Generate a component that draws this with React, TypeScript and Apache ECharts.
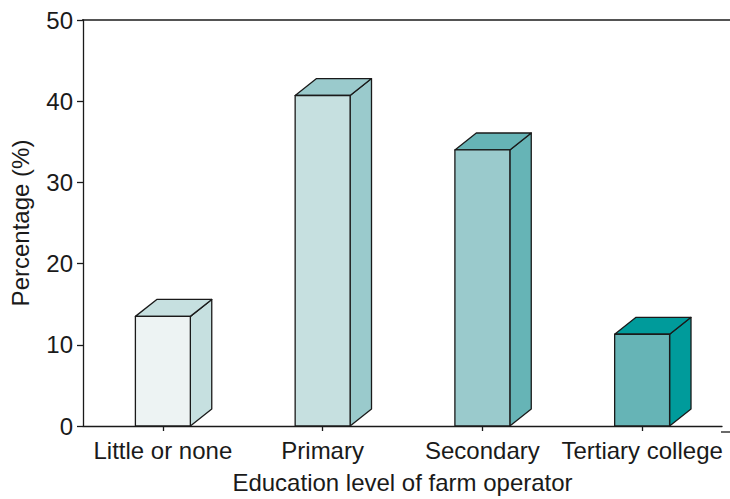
import React, { useEffect, useRef } from "react";
import * as echarts from "echarts";

// Share of farm operators by education level
const categories = ["Little or none", "Primary", "Secondary", "Tertiary college"];
const percentages = [13.5, 40.7, 34.0, 11.3];
const yTicks = [0, 10, 20, 30, 40, 50];

// Front face colour and side/top face colour for each bar
const frontColors = ["#edf3f3", "#c6e0e0", "#9acacc", "#66b4b6"];
const sideColors = ["#c6e0e0", "#9acacc", "#66b4b6", "#009b9b"];

const FONT = "'Liberation Sans', Arial, Helvetica, sans-serif";
const INK = "#1a1a1a";
const FS = 24;

export default function App() {
  const ref = useRef<HTMLDivElement>(null);

  useEffect(() => {
    document.body.style.margin = "0";
    if (!ref.current) return;
    const chart = echarts.init(ref.current, undefined, { renderer: "svg" });

    const gridLeft = 82;
    const gridRight = 8;
    const gridTop = 20;
    const gridBottom = 67;
    const W = 730;
    const H = 499;

    const renderItem = (params: any, api: any) => {
      const i = params.dataIndex;
      const idx = api.value(0);
      const v = api.value(1);
      const top = api.coord([idx, v]);
      const base = api.coord([idx, 0]);
      const band = api.size([1, 0])[0];
      const hw = band * 0.172;
      const dx = band * 0.134;
      const dy = dx * 0.79;
      const cx = top[0];
      const yt = top[1];
      const yb = base[1];
      const stroke = { stroke: INK, lineWidth: 1.3, lineJoin: "round" };
      return {
        type: "group",
        children: [
          {
            type: "polygon",
            shape: {
              points: [
                [cx + hw, yb],
                [cx + hw + dx, yb - dy],
                [cx + hw + dx, yt - dy],
                [cx + hw, yt],
              ],
            },
            style: { fill: sideColors[i], ...stroke },
          },
          {
            type: "polygon",
            shape: {
              points: [
                [cx - hw, yt],
                [cx - hw + dx, yt - dy],
                [cx + hw + dx, yt - dy],
                [cx + hw, yt],
              ],
            },
            style: { fill: sideColors[i], ...stroke },
          },
          {
            type: "rect",
            shape: { x: cx - hw, y: yt, width: hw * 2, height: yb - yt },
            style: { fill: frontColors[i], ...stroke },
          },
        ],
      };
    };

    chart.setOption({
      animation: false,
      backgroundColor: "#ffffff",
      textStyle: { fontFamily: FONT },
      grid: { left: gridLeft, right: gridRight, top: gridTop, bottom: gridBottom },
      xAxis: {
        type: "category",
        data: categories,
        name: "Education level of farm operator",
        nameLocation: "middle",
        nameGap: 44,
        nameTextStyle: { fontSize: FS, color: INK, fontFamily: FONT },
        axisLine: { show: true, lineStyle: { color: INK, width: 1.3 } },
        axisTick: { show: true, alignWithLabel: true, length: 5, lineStyle: { color: INK, width: 1.3 } },
        axisLabel: { fontSize: FS, color: INK, margin: 12, fontFamily: FONT, interval: 0 },
        splitLine: { show: false },
      },
      yAxis: {
        type: "value",
        min: yTicks[0],
        max: yTicks[yTicks.length - 1],
        interval: yTicks[1] - yTicks[0],
        name: "Percentage (%)",
        nameLocation: "middle",
        nameGap: 51,
        nameTextStyle: { fontSize: FS, color: INK, fontFamily: FONT },
        axisLine: { show: true, lineStyle: { color: INK, width: 1.3 } },
        axisTick: { show: true, length: 6, lineStyle: { color: INK, width: 1.3 } },
        axisLabel: { fontSize: FS, color: INK, margin: 10, fontFamily: FONT },
        splitLine: { show: false },
      },
      graphic: [
        // frame line across the top of the plot
        {
          type: "line",
          shape: { x1: gridLeft, y1: gridTop, x2: W, y2: gridTop },
          style: { stroke: INK, lineWidth: 1.3 },
          silent: true,
        },
        // baseline continues to the right edge
        {
          type: "line",
          shape: { x1: W - gridRight - 1, y1: H - gridBottom, x2: W, y2: H - gridBottom },
          style: { stroke: INK, lineWidth: 1.3 },
          silent: true,
        },
      ],
      series: [
        {
          type: "custom",
          renderItem,
          encode: { x: 0, y: 1 },
          data: percentages.map((v, i) => [i, v]),
          clip: false,
        },
      ],
    });

    return () => chart.dispose();
  }, []);

  return <div ref={ref} style={{ width: 730, height: 499 }} />;
}
